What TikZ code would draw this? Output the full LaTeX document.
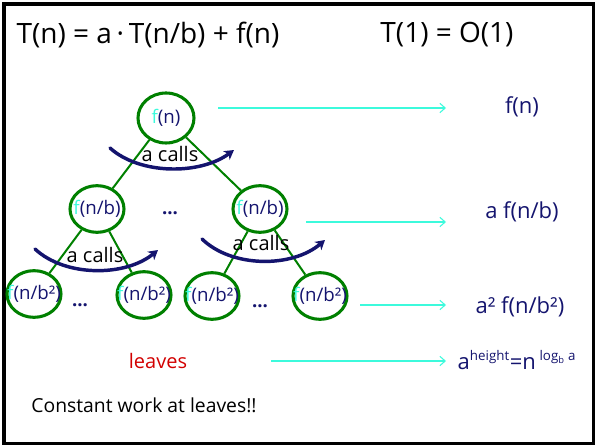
\documentclass[tikz,border=0pt]{standalone}
\usepackage{fontspec}
\setmainfont{Open Sans}
\usetikzlibrary{arrows.meta,shapes.geometric}
\definecolor{leafgreen}{RGB}{0,128,0}
\definecolor{midnight}{RGB}{20,20,110}
\definecolor{aqua}{RGB}{60,250,220}
\definecolor{crimson}{RGB}{210,0,0}
\tikzset{
  call/.style={ellipse,draw=leafgreen,line width=2.3pt,minimum width=40.5pt,
    minimum height=35pt,inner sep=0pt,text=midnight,font=\fontsize{14}{16}\selectfont},
  edge/.style={leafgreen,line width=1.5pt},
  work/.style={text=midnight,font=\fontsize{16.5}{18}\selectfont},
  level/.style={-{Straight Barb[length=4pt,width=7pt]},aqua,line width=0.8pt},
  spread/.style={-{Stealth[length=7pt,width=8pt,inset=2pt]},midnight,line width=2.6pt,line cap=round},
  calls/.style={font=\fontsize{15}{17}\selectfont},
  dots/.style={text=midnight,font=\fontsize{14}{16}\selectfont\bfseries},
}
% text of a call, allowed to run over the circle
\newcommand{\fc}[1]{\makebox[0pt]{{\color{aqua}f}(#1)}}

\begin{document}
\begin{tikzpicture}[x=0.75pt,y=-0.75pt]
    \useasboundingbox (0,0) rectangle (595,445);
    \draw[line width=2.7pt] (4,4) rectangle (593.5,443.5);
    % recurrence
    \node[font=\fontsize{21}{24}\selectfont] (rec) at (148,35) {T(n) = a\,·\,T(n/b) + f(n)};
    \node[font=\fontsize{21}{24}\selectfont] (base) at (447,35) {T(1) = O(1)};
    % recursion tree
    \node[call,minimum width=42pt,minimum height=37.5pt] (r0) at (166,118) {\fc{n}};
    \node[call] (a1) at (97,209) {\fc{n/b}};
    \node[call] (a2) at (260,209) {\fc{n/b}};
    \node[call] (b1) at (34,294) {\fc{n/b²}};
    \node[call] (b2) at (144,295) {\fc{n/b²}};
    \node[call] (b3) at (212,296) {\fc{n/b²}};
    \node[call] (b4) at (320,296) {\fc{n/b²}};
    \foreach \p/\c in {r0/a1,r0/a2,a1/b1,a1/b2,a2/b3,a2/b4} \draw[edge] (\p) -- (\c);
    \node[dots] (d1) at (170,213) {...};
    \node[dots] (d2) at (80,305) {...};
    \node[dots] (d3) at (260,306) {...};
    % a calls
    \draw[spread] (110,148) .. controls (140,175) and (200,175) .. (234,150);
    \node[calls] (c0) at (170,154) {a calls};
    \draw[spread] (35,249) .. controls (65,277) and (125,277) .. (158,250);
    \node[calls] (c1) at (95,255) {a calls};
    \draw[spread] (202,239) .. controls (232,268) and (292,268) .. (325,240);
    \node[calls] (c2) at (261,243) {a calls};
    % work per level
    \node[work] (w0) at (522,107) {f(n)};
    \node[work] (w1) at (522,212) {a f(n/b)};
    \node[work] (w2) at (520,307) {a² f(n/b²)};
    \node[text=midnight] (w3) at (517,360) {\fontsize{16.5}{18}\selectfont a\textsuperscript{\fontsize{10}{11}\selectfont height}=n\,\textsuperscript{\fontsize{10}{11}\selectfont log\textsubscript{b} a}};
    \node[text=crimson,font=\fontsize{15}{18}\selectfont] (lv) at (158,361) {leaves};
    \node[font=\fontsize{14.5}{17}\selectfont] (cw) at (144,405) {Constant work at leaves!!};
    \coordinate (s0) at (218,108); \coordinate (e0) at (446,108);
    \coordinate (s1) at (306,222); \coordinate (e1) at (446,222);
    \coordinate (s2) at (360,305); \coordinate (e2) at (446,305);
    \coordinate (s3) at (271,361); \coordinate (e3) at (446,361);
    \foreach \i in {0,1,2,3} \draw[level] (s\i) -- (e\i);
  \end{tikzpicture}
\end{document}
